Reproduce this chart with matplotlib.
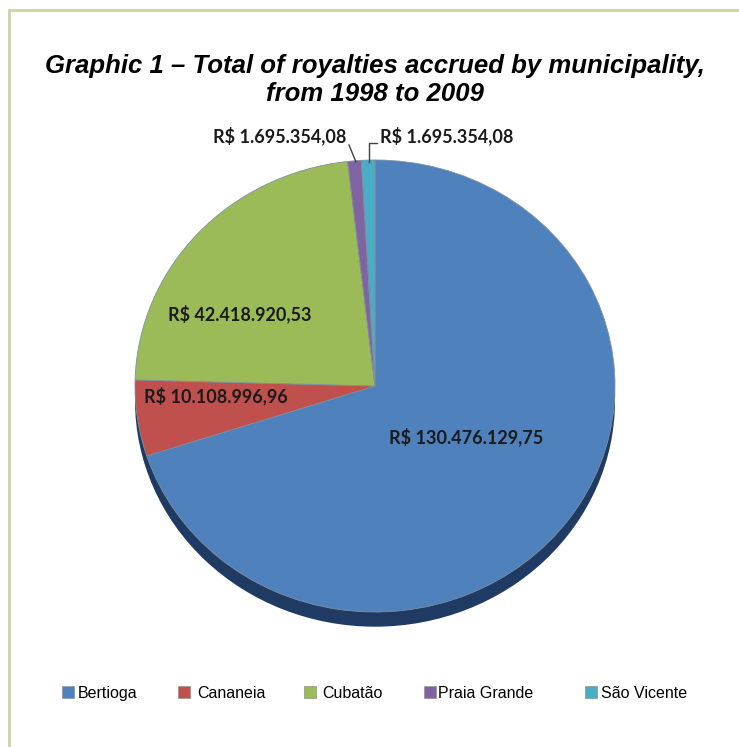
import matplotlib
matplotlib.use("Agg")
import matplotlib.pyplot as plt
from matplotlib.patches import Ellipse, Rectangle
from matplotlib.lines import Line2D

# ---- data ----
municipalities = ["Bertioga", "Cananeia", "Cubatão", "Praia Grande", "São Vicente"]
royalties = [130476129.75, 10108996.96, 42418920.53, 1695354.08, 1695354.08]
value_labels = ["R$ 130.476.129,75", "R$ 10.108.996,96", "R$ 42.418.920,53",
                "R$ 1.695.354,08", "R$ 1.695.354,08"]
colors = ["#4F81BD", "#C0504D", "#9BBB59", "#8064A2", "#4BACC6"]
title = "Graphic 1 – Total of royalties accrued by municipality,\nfrom 1998 to 2009"

W, H = 739, 747
fig = plt.figure(figsize=(W / 100, H / 100), dpi=100)
fig.patch.set_facecolor("white")

def fx(x):
    return x / W

def fy(y):
    return 1 - y / H

# frame border
frame = Rectangle((fx(9), fy(752)), fx(749) - fx(9), fy(10) - fy(752),
                  transform=fig.transFigure, fill=False, edgecolor="#C9D3A5",
                  linewidth=2.0)
fig.patches.append(frame)

# title
fig.text(fx(375), fy(80), title, ha="center", va="center",
         fontsize=18.5, fontweight="bold", fontstyle="italic",
         family="Liberation Sans", linespacing=1.2, color="black")

# pie axes
cx, cy, rx, ry = 375, 386, 240, 226
ax = fig.add_axes([fx(cx - rx), fy(cy + ry), 2 * rx / W, 2 * ry / H])
shadow = Ellipse((0, -0.065), 2.0, 2.0, facecolor="#1F3B63", edgecolor="none",
                 clip_on=False, zorder=0)
ax.add_patch(shadow)
wedges, _ = ax.pie(royalties, colors=colors, startangle=90, counterclock=False,
                   radius=1.0, wedgeprops=dict(linewidth=0.6, edgecolor="#8090A0"))
for w in wedges:
    w.set_zorder(2)
    w.set_clip_on(False)
ax.set_aspect("auto")
ax.set_xlim(-1, 1)
ax.set_ylim(-1, 1)
ax.axis("off")

lab_font = dict(fontsize=13, fontweight="bold", family="Lato", color="#1a1a1a")
fig.text(fx(466), fy(437), value_labels[0], ha="center", va="center", **lab_font)
fig.text(fx(216), fy(396), value_labels[1], ha="center", va="center", **lab_font)
fig.text(fx(240), fy(314), value_labels[2], ha="center", va="center", **lab_font)
fig.text(fx(346), fy(136), value_labels[3], ha="right", va="center", **lab_font)
fig.text(fx(380), fy(136), value_labels[4], ha="left", va="center", **lab_font)

# leader lines
fig.lines.append(Line2D([fx(349), fx(356)], [fy(145), fy(162)],
                        transform=fig.transFigure, color="#404040", linewidth=1))
fig.lines.append(Line2D([fx(377), fx(369), fx(369)], [fy(143), fy(143), fy(162)],
                        transform=fig.transFigure, color="#404040", linewidth=1))

# legend
leg_sq_x = [62, 178, 304, 424, 585]
leg_tx_x = [78, 197, 322, 438, 601]
leg_y = 692
for name, col, sx, tx in zip(municipalities, colors, leg_sq_x, leg_tx_x):
    sq = Rectangle((fx(sx), fy(leg_y + 6)), 12 / W, 12 / H, transform=fig.transFigure,
                   facecolor=col, edgecolor="#909090", linewidth=0.5)
    fig.patches.append(sq)
    fig.text(fx(tx), fy(leg_y + 6), name, ha="left", va="baseline", fontsize=11.5,
             family="Liberation Sans", color="black")

fig.savefig("out.png", dpi=100, facecolor="white")
